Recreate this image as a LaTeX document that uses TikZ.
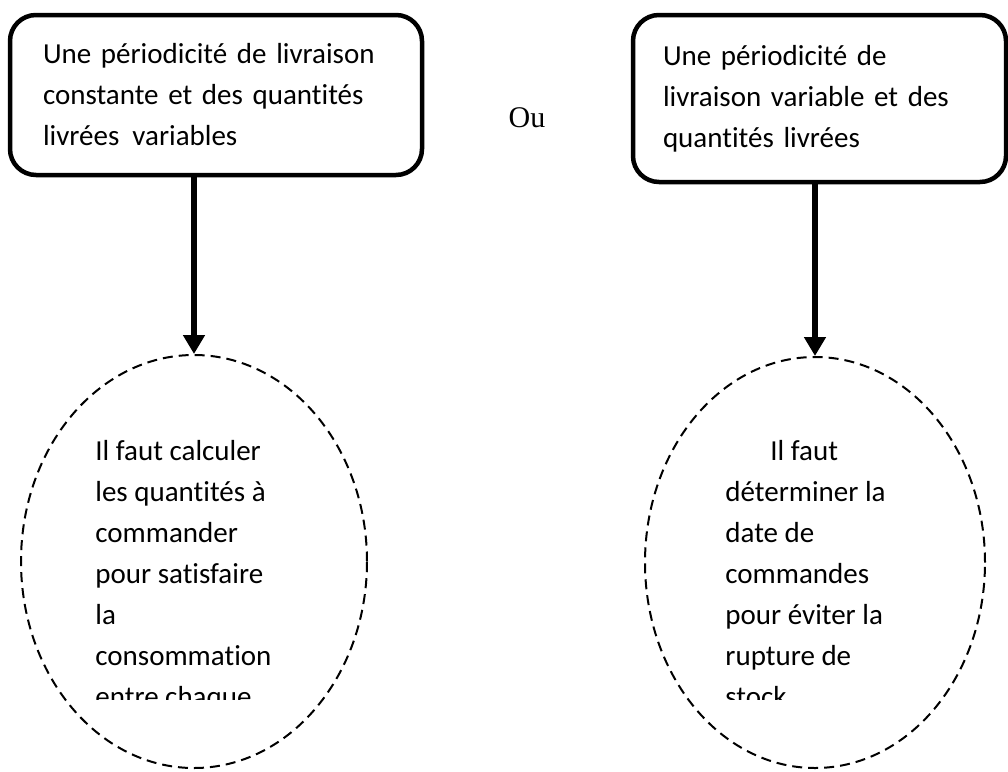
\documentclass[tikz,border=0pt]{standalone}
\usepackage{fontspec}
\setmainfont{Carlito}[Ligatures=NoCommon]
\newfontfamily\oufont{Liberation Serif}
\usetikzlibrary{positioning,shapes.geometric,arrows.meta}

\begin{document}
\begin{tikzpicture}[x=1pt, y=-1pt, thick,
    caja/.style={draw, line width=4.5pt, rounded corners=26pt, align=left, inner ysep=0pt,
      font=\fontsize{29}{41}\selectfont},
    nube/.style={draw, ellipse, line width=2pt, dash pattern=on 10pt off 6pt, inner sep=0pt},
    texto/.style={align=left, inner sep=0pt, font=\fontsize{29}{41}\selectfont},
    flecha/.style={line width=6pt, -{Triangle[length=19pt,width=21pt]}}]
        \useasboundingbox (0,0) rectangle (1008,771);

        % Boxes
        \node[caja, text width=346pt, inner xsep=33pt, minimum height=160pt] (boxL) at (216,95)
            {Une périodicité de livraison\\constante et des quantités\\livrées\hspace{0.45em}variables};
        \node[caja, text width=313pt, inner xsep=30pt, minimum height=167pt] (boxR) at (819.5,98.5)
            {Une périodicité de\\livraison variable et des\\quantités livrées};
        \node[font=\oufont\fontsize{30}{36}\selectfont] (ou) at (527,118) {Ou};

        % Ellipses
        \node[nube, minimum width=346pt, minimum height=413pt] (ellL) at (194,561.5) {};
        \node[nube, minimum width=340pt, minimum height=411pt] (ellR) at (815,562.5) {};

        % Texts, cut at the bottom
        \begin{scope}
            \clip (0,0) rectangle (1008,699);
            \node[texto, anchor=north west] (txtL) at (95,440)
                {Il faut calculer\\les quantités à\\commander\\pour satisfaire\\la\\consommation\\entre chaque};
            \node[texto, anchor=north west] (txtR) at (725,440)
                {\hspace*{45pt}Il faut\\déterminer la\\date de\\commandes\\pour éviter la\\rupture de\\stock};
        \end{scope}

        % Arrows
        \draw[flecha] (ellL.north |- boxL.south) -- (ellL.north);
        \draw[flecha] (ellR.north |- boxR.south) -- (ellR.north);
\end{tikzpicture}
\end{document}
